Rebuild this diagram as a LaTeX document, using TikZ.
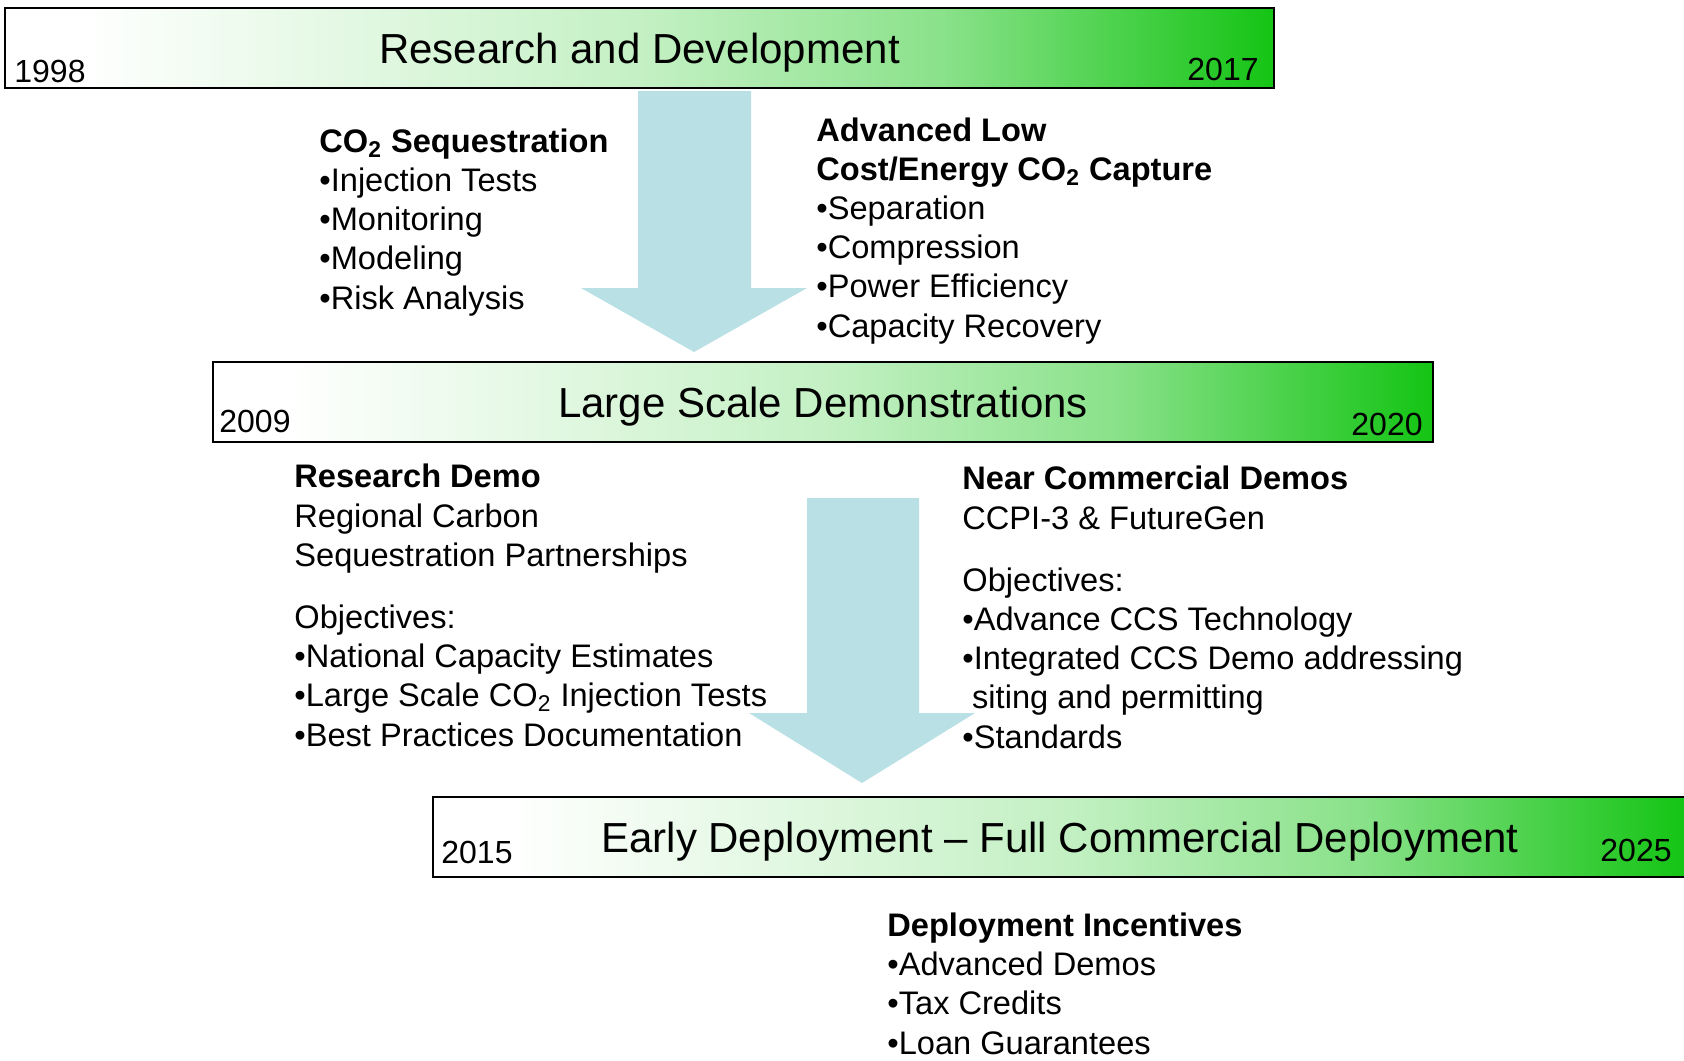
\documentclass[tikz,border=0pt]{standalone}
\usepackage{fontspec}
\setmainfont{Liberation Sans}
\usetikzlibrary{positioning,shadings}
\definecolor{bargreen}{RGB}{20,196,20}
\definecolor{arrowblue}{RGB}{185,224,228}
\pgfdeclarehorizontalshading{barshade}{100bp}{color(0bp)=(white); color(25bp)=(white); color(28bp)=(white); color(50bp)=(bargreen!25); color(62bp)=(bargreen!50); color(75bp)=(bargreen); color(100bp)=(bargreen)}

\begin{document}
\begin{tikzpicture}[
		x=0.5pt,
		y=-0.5pt,
		phase/.style={
			draw=black,
			line width=1pt,
			shade,
			shading=barshade,
			inner sep=0pt,
			minimum height=40pt,
			font=\fontsize{21}{25}\selectfont,
			text height=15pt,
			text depth=0pt
		},
		year/.style={
			font=\fontsize{16}{19}\selectfont,
			inner sep=0pt
		},
		blurb/.style={
			font=\fontsize{16.3}{19.6}\selectfont,
			align=left,
			inner sep=0pt,
			anchor=base west
		},
		bigarrow/.style={
			fill=arrowblue
		}
		]
		\useasboundingbox (0,0) rectangle (1684,1060);
		% block arrows between the phases
		\fill[bigarrow] (638,91) -- (751,91) -- (751,288) -- (807,288) -- (694,352) -- (581,288) -- (638,288) -- cycle;
		\fill[bigarrow] (807,498) -- (919,498) -- (919,713) -- (975,713) -- (862,783) -- (749,713) -- (807,713) -- cycle;
		% phases
		\node[phase,minimum width=634.5pt] (rd) at (639.5,48) {Research and Development};
		\node[year,anchor=base west] (rdstart) at (14,82) {1998};
		\node[year,anchor=base east] (rdend) at (1259,80) {2017};
		\node[phase,minimum width=610pt] (demo) at (823,402) {Large Scale Demonstrations};
		\node[year,anchor=base west] (demostart) at (219,432) {2009};
		\node[year,anchor=base east] (demoend) at (1423,435) {2020};
		\node[phase,minimum width=627pt] (deploy) at (1060,837) {Early Deployment -- Full Commercial Deployment};
		\node[year,anchor=base west] (deploystart) at (441,863) {2015};
		\node[year,anchor=base east] (deployend) at (1672,861) {2025};
		% descriptions (placed by the baseline of their last line)
		\node[blurb] (seq) at (319,309) {\textbf{CO\textsubscript{2} Sequestration}\\
			\textbullet Injection Tests\\
			\textbullet Monitoring\\
			\textbullet Modeling\\
			\textbullet Risk Analysis};
		\node[blurb] (capture) at (816,337) {\textbf{Advanced Low}\\
			\textbf{Cost/Energy CO\textsubscript{2} Capture}\\
			\textbullet Separation\\
			\textbullet Compression\\
			\textbullet Power Efficiency\\
			\textbullet Capacity Recovery};
		\node[blurb] (resdemo) at (294,746) {\textbf{Research Demo}\\
			Regional Carbon\\
			Sequestration Partnerships\\[11.5pt]
			Objectives:\\
			\textbullet National Capacity Estimates\\
			\textbullet Large Scale CO\textsubscript{2} Injection Tests\\
			\textbullet Best Practices Documentation};
		\node[blurb] (neardemo) at (962,748) {\textbf{Near Commercial Demos}\\
			CCPI-3 \& FutureGen\\[11.5pt]
			Objectives:\\
			\textbullet Advance CCS Technology\\
			\textbullet Integrated CCS Demo addressing\\
			\hspace*{0.3em}siting and permitting\\
			\textbullet Standards};
		\node[blurb] (incent) at (887,1054) {\textbf{Deployment Incentives}\\
			\textbullet Advanced Demos\\
			\textbullet Tax Credits\\
			\textbullet Loan Guarantees};
		\end{tikzpicture}
\end{document}
